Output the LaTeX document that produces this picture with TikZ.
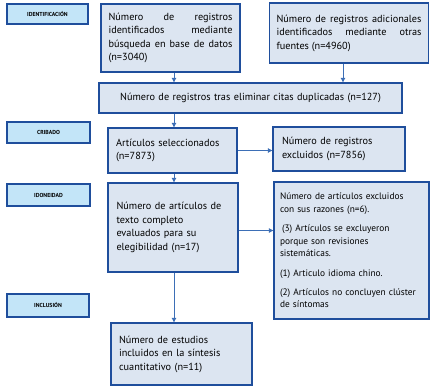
\documentclass[tikz,border=0pt]{standalone}
\usepackage{fontspec}
\setmainfont{PT Sans}
\usetikzlibrary{arrows.meta}
\definecolor{boxline}{HTML}{1F4E9C}
\definecolor{boxfill}{HTML}{DCE5F1}
\definecolor{stagefill}{HTML}{C3E5F8}
\definecolor{arrowline}{HTML}{3D6FB6}
\hyphenpenalty=10000
\exhyphenpenalty=10000

\begin{document}
\begin{tikzpicture}[x=1bp, y=-1bp, every node/.style={font=\fontsize{10.3}{13.5}\selectfont}, >={Triangle[length=1.6mm, width=1.6mm]}]
	\tikzset{
		stage/.style={draw=boxline, line width=1.4bp, fill=stagefill, inner sep=0pt, font=\fontsize{5.8}{6}\selectfont\bfseries},
		box/.style={draw=boxline, line width=1.4bp, fill=boxfill, inner xsep=0pt, inner ysep=0pt, align=left},
		flow/.style={->, arrowline, line width=0.9bp}
	}
	\useasboundingbox (0,0) rectangle (436,388);
	% stage labels
	\node[stage, minimum width=81bp, minimum height=20bp] (ident) at (47.5,14) {IDENTIFICACIÓN};
	\node[stage, minimum width=83bp, minimum height=21bp] (crib) at (48.5,132.5) {CRIBADO};
	\node[stage, minimum width=83bp, minimum height=22bp] (idon) at (48.5,195) {IDONEIDAD};
	\node[stage, minimum width=82bp, minimum height=23bp] (incl) at (48,305.5) {INCLUSIÓN};
	% flow boxes
	\node[box, align=justify, minimum width=139bp, minimum height=68bp, text width=124bp] (reg1) at (170.5,38) {Número de registros identificados mediante búsqueda en base de datos (n=3040)};
	\node[box, align=justify, minimum width=159bp, minimum height=60bp, text width=145bp] (reg2) at (349,33) {Número de registros adicionales identificados mediante otras fuentes (n=4960)};
	\node[box, align=center, minimum width=303bp, minimum height=30bp, text width=290bp] (dedup) at (250.5,98) {Número de registros tras eliminar citas duplicadas (n=127)};
	\node[box, minimum width=129bp, minimum height=45bp, text width=113bp] (sel) at (172.5,150.5) {Artículos seleccionados\\(n=7873)};
	\node[box, minimum width=132bp, minimum height=44bp, text width=114bp] (excl) at (339,149) {Número de registros\\excluidos (n=7856)};
	\node[box, minimum width=130bp, minimum height=89bp, text width=113bp] (eval) at (173,227.5) {Número de artículos de\\texto completo\\evaluados para su\\elegibilidad (n=17)};
	\node[box, minimum width=155bp, minimum height=137bp, text width=143bp, font=\fontsize{9.4}{12.5}\selectfont] (reasons) at (351.5,250.5) {Número de artículos excluidos\\con sus razones (n=6).\\[7bp]\hspace{2bp}(3) Artículos se excluyeron\\porque son revisiones\\sistemáticas.\\[7bp](1) Articulo idioma chino.\\[7bp](2) Artículos no concluyen clúster\\de síntomas};
	\node[box, minimum width=141bp, minimum height=62bp, text width=125bp] (incstud) at (181.5,354) {Número de estudios\\incluidos en la síntesis\\cuantitativo (n=11)};
	% connectors
	\coordinate (spine) at (174,0);
	\coordinate (spineb) at (343,0);
	\draw[flow] (reg1.south -| spine) -- (dedup.north -| spine);
	\draw[flow] (reg2.south -| spineb) -- (dedup.north -| spineb);
	\draw[flow] (dedup.south -| spine) -- (sel.north -| spine);
	\draw[flow] (sel.east) -- (sel.east -| excl.west);
	\draw[flow] (sel.south -| spine) -- (eval.north -| spine);
	\draw[flow] ([yshift=-3bp]eval.east) -- ([yshift=-3bp]eval.east -| reasons.west);
	\draw[flow] (eval.south -| spine) -- (incstud.north -| spine);
\end{tikzpicture}
\end{document}
